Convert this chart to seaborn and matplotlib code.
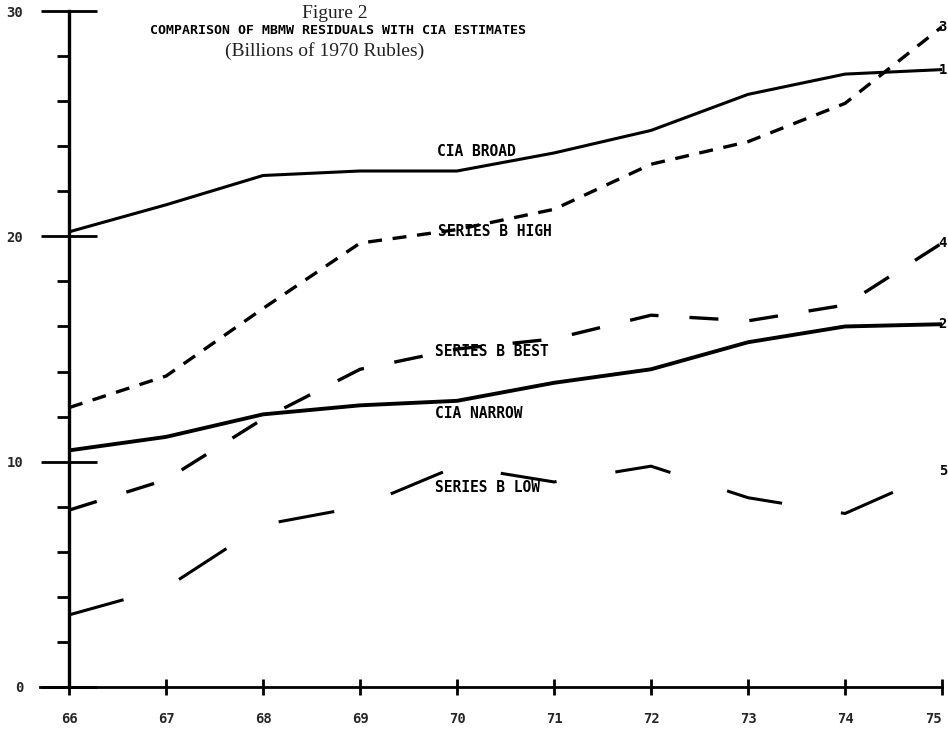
import matplotlib
matplotlib.use("Agg")
import matplotlib.pyplot as plt
import seaborn as sns
from matplotlib.ticker import MultipleLocator

# values (billions of 1970 rubles)
years = [66, 67, 68, 69, 70, 71, 72, 73, 74, 75]
year_labels = ["66", "67", "68", "69", "70", "71", "72", "73", "74", "75"]
cia_broad = [20.2, 21.4, 22.7, 22.9, 22.9, 23.7, 24.7, 26.3, 27.2, 27.4]
cia_narrow = [10.5, 11.1, 12.1, 12.5, 12.7, 13.5, 14.1, 15.3, 16.0, 16.1]
b_high = [12.4, 13.8, 16.8, 19.7, 20.3, 21.2, 23.2, 24.2, 25.9, 29.3]
b_best = [7.85, 9.2, 11.9, 14.1, 15.0, 15.45, 16.5, 16.25, 16.95, 19.7]
b_low = [3.2, 4.4, 7.2, 8.0, 9.8, 9.1, 9.8, 8.4, 7.7, 9.6]
y_ticks = [0, 10, 20, 30]

series = [
    ("CIA BROAD", cia_broad, "1", None, 2.2, (69.79, 23.75)),
    ("SERIES B HIGH", b_high, "3", (4.2, 3.2), 2.4, (69.8, 20.2)),
    ("SERIES B BEST", b_best, "4", (8.7, 9.3), 2.4, (69.77, 14.9)),
    ("CIA NARROW", cia_narrow, "2", None, 2.8, (69.77, 12.15)),
    ("SERIES B LOW", b_low, "5", (18.5, 19.5), 2.2, (69.77, 8.85)),
]

sns.set_theme(style="white")
mono = {"family": "DejaVu Sans Mono", "weight": "bold"}

fig = plt.figure(figsize=(9.48, 7.29), dpi=100)
ax = fig.add_axes([40 / 948, 42 / 729, 902 / 948, 676 / 729])

for name, vals, num, dash, lw, pos in series:
    sns.lineplot(x=years, y=vals, ax=ax, color="black", lw=lw, legend=False)
    line = ax.lines[-1]
    if dash is not None:
        line.set_dashes(dash)
    line.set_solid_capstyle("butt")
    ax.text(pos[0], pos[1], name, fontsize=10.5, va="center", ha="left",
            color="black", **mono)
    # end-of-line series number, squeezed against the right edge
    ax.annotate(num, xy=(years[-1], vals[-1]), xytext=(5, 0),
                textcoords="offset pixels", fontsize=10, va="center",
                ha="right", color="black", annotation_clip=False, **mono)

ax.set_xlim(65.70, 75)
ax.set_ylim(0, 30)

for side in ["top", "right"]:
    ax.spines[side].set_visible(False)
ax.spines["left"].set_position(("data", 66))
ax.spines["left"].set_linewidth(2.4)
ax.spines["bottom"].set_linewidth(2.0)
for sp in ["left", "bottom"]:
    ax.spines[sp].set_color("black")

ax.set_xticks(years)
ax.set_xticklabels(year_labels, **mono, fontsize=10)
ax.get_xticklabels()[-1].set_horizontalalignment("right")
ax.set_yticks(y_ticks)
ax.set_yticklabels([str(v) for v in y_ticks], **mono, fontsize=10)
ax.yaxis.set_minor_locator(MultipleLocator(2))
ax.tick_params(axis="x", which="major", direction="inout", length=11,
               width=2, color="black", pad=12.5, bottom=True)
ax.tick_params(axis="y", which="major", direction="inout", length=40,
               width=2, color="black", pad=13, left=True)
ax.tick_params(axis="y", which="minor", direction="out", length=9,
               width=2, color="black", left=True)
ax.set_xlabel("")
ax.set_ylabel("")
ax.grid(False)

fig.text(335 / 948, 1 - 14 / 729, "Figure 2", ha="center", va="center",
         fontsize=14, family="Liberation Serif", color="#222222")
fig.text(150 / 948, 1 - 31 / 729,
         "COMPARISON OF MBMW RESIDUALS WITH CIA ESTIMATES",
         ha="left", va="center", fontsize=9.5, color="black", **mono)
fig.text(325 / 948, 1 - 51 / 729, "(Billions of 1970 Rubles)",
         ha="center", va="center", fontsize=14, family="Liberation Serif",
         color="#222222")

fig.savefig("out.png", dpi=100, facecolor="white")
